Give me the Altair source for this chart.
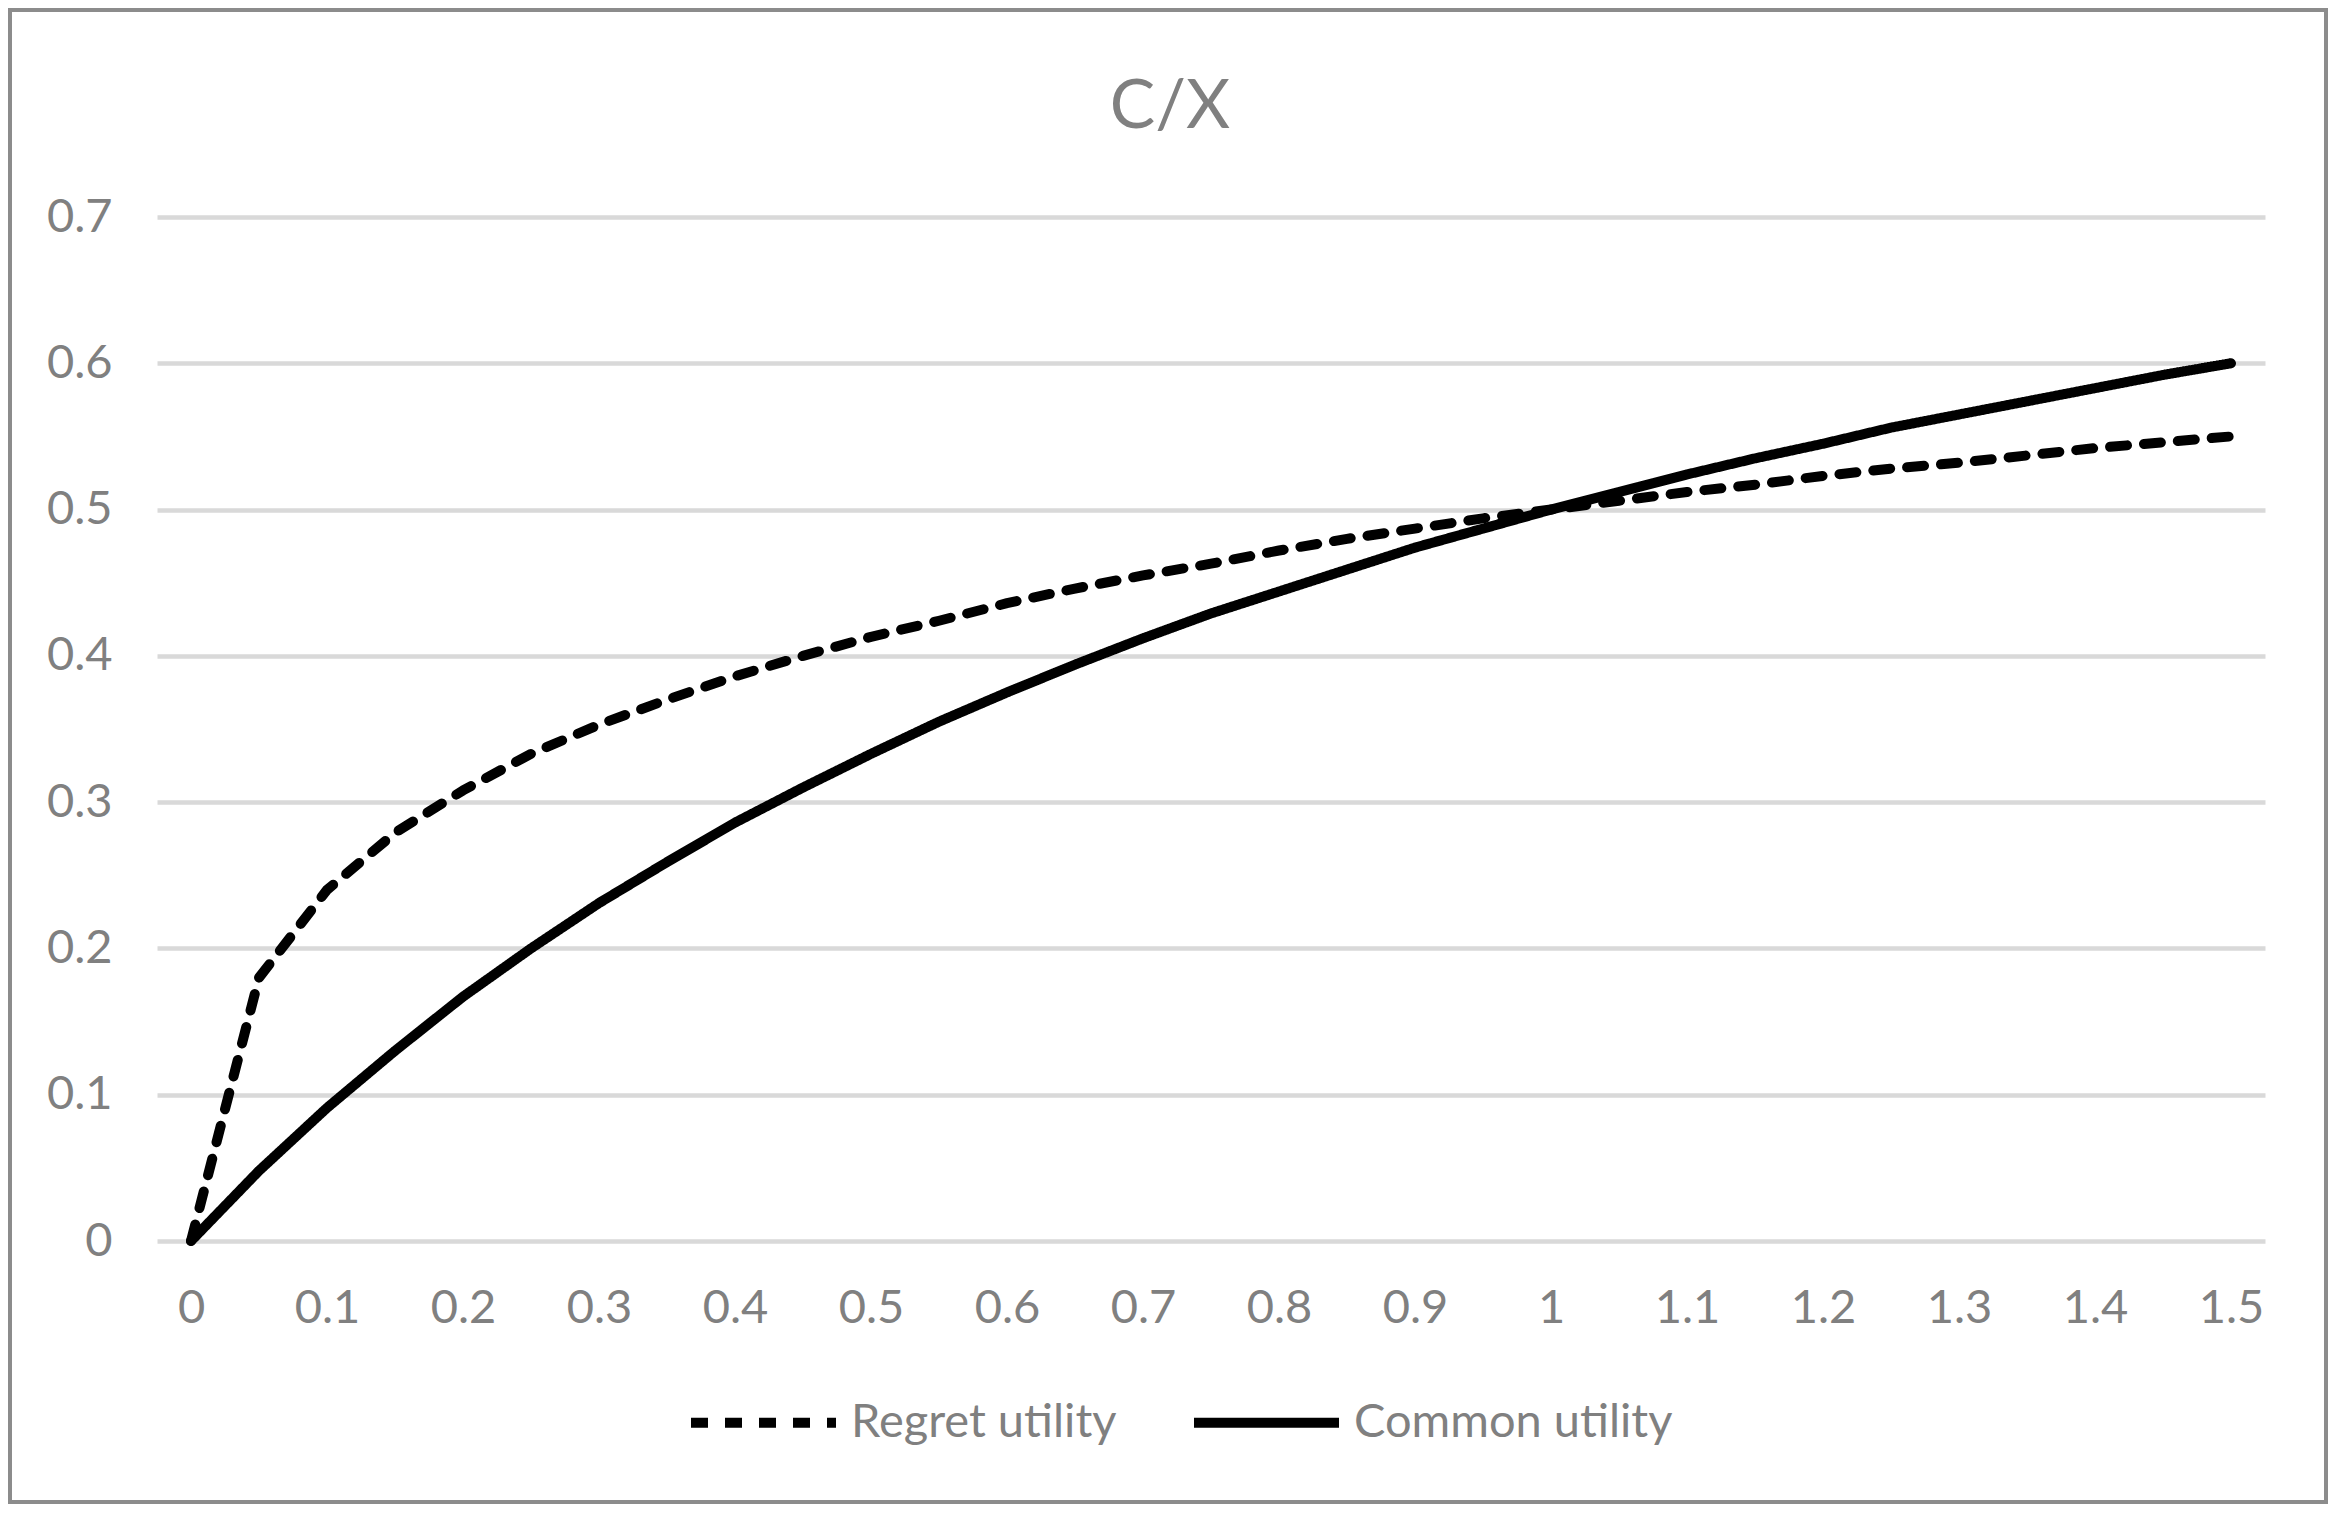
import altair as alt
import pandas as pd

# Category values on the x axis (every 0.05; labels shown every 0.1)
x_vals = [0.0, 0.05, 0.1, 0.15, 0.2, 0.25, 0.3, 0.35, 0.4, 0.45, 0.5,
          0.55, 0.6, 0.65, 0.7, 0.75, 0.8, 0.85, 0.9, 0.95, 1.0,
          1.05, 1.1, 1.15, 1.2, 1.25, 1.3, 1.35, 1.4, 1.45, 1.5]

regret = [0.0, 0.18, 0.24, 0.279, 0.308, 0.333, 0.353, 0.370, 0.386, 0.400, 0.413,
          0.424, 0.436, 0.446, 0.455, 0.463, 0.472, 0.480, 0.487, 0.494, 0.500,
          0.506, 0.512, 0.517, 0.523, 0.528, 0.532, 0.537, 0.542, 0.546, 0.550]

common = [0.0, 0.048, 0.091, 0.130, 0.167, 0.200, 0.231, 0.259, 0.286, 0.310, 0.333,
          0.355, 0.375, 0.394, 0.412, 0.429, 0.444, 0.459, 0.474, 0.487, 0.500,
          0.512, 0.524, 0.535, 0.545, 0.556, 0.565, 0.574, 0.583, 0.592, 0.600]

series_names = ["Regret utility", "Common utility"]
chart_title = "C/X"
x_ticks = [0.0, 0.1, 0.2, 0.3, 0.4, 0.5, 0.6, 0.7, 0.8, 0.9, 1.0, 1.1, 1.2, 1.3, 1.4, 1.5]
y_ticks = [0.0, 0.1, 0.2, 0.3, 0.4, 0.5, 0.6, 0.7]

rows = []
for xv, r, c in zip(x_vals, regret, common):
    rows.append({"x": xv, "value": r, "series": series_names[0]})
    rows.append({"x": xv, "value": c, "series": series_names[1]})
df = pd.DataFrame(rows)

TXT = "#808080"
FONT = "Lato"

lines = alt.Chart(df).mark_line(
    color="black", strokeWidth=10, strokeCap="round", strokeJoin="round"
).encode(
    x=alt.X("x:Q", scale=alt.Scale(domain=[-0.025, 1.525], nice=False, zero=False),
            axis=alt.Axis(values=x_ticks, format=".1~f", grid=False, domain=False,
                          ticks=False, tickSize=0, labelPadding=81,
                          labelBaseline="alphabetic", labelFontSize=47,
                          labelFont=FONT, labelColor=TXT, title=None)),
    y=alt.Y("value:Q", scale=alt.Scale(domain=[0, 0.7], nice=False),
            axis=alt.Axis(values=y_ticks, format=".1~f", grid=True, gridColor="#d9d9d9",
                          gridWidth=4.5, domain=False, ticks=False, tickSize=0,
                          labelPadding=45, labelAlign="right", labelBaseline="middle",
                          labelFontSize=47, labelFont=FONT, labelColor=TXT, title=None)),
    strokeDash=alt.StrokeDash(
        "series:N",
        scale=alt.Scale(domain=series_names, range=[[17, 17], [1, 0]]),
        sort=series_names,
        title=None,
        legend=alt.Legend(orient="none", legendX=529, legendY=1128, direction="horizontal",
                          symbolType="stroke", symbolSize=21025, symbolStrokeWidth=10,
                          symbolStrokeColor="black", labelOffset=10, columnPadding=57,
                          labelLimit=0, labelFontSize=47, labelFont=FONT,
                          labelColor=TXT, padding=0)),
    order=alt.Order("x:Q"),
)

frame = alt.Chart(alt.Data(values=[{"a": 1}])).mark_rect(
    fillOpacity=0, stroke="#8c8c8c", strokeWidth=4, clip=False
).encode(
    x=alt.value(-147), x2=alt.value(2169), y=alt.value(-207), y2=alt.value(1285)
)

title = alt.Chart(alt.Data(values=[{"t": chart_title}])).mark_text(
    font=FONT, fontSize=68, color=TXT, align="center", baseline="alphabetic", clip=False
).encode(
    text="t:N", x=alt.value(1013), y=alt.value(-89)
)

chart = alt.layer(frame, lines, title).properties(
    width=2108, height=1024,
    autosize=alt.AutoSizeParams(type="none"),
    padding={"left": 149, "top": 209, "right": 63, "bottom": 263},
    background="white",
).configure_view(stroke="transparent")

chart.save("out.html", embed_options={"renderer": "svg", "actions": False})
